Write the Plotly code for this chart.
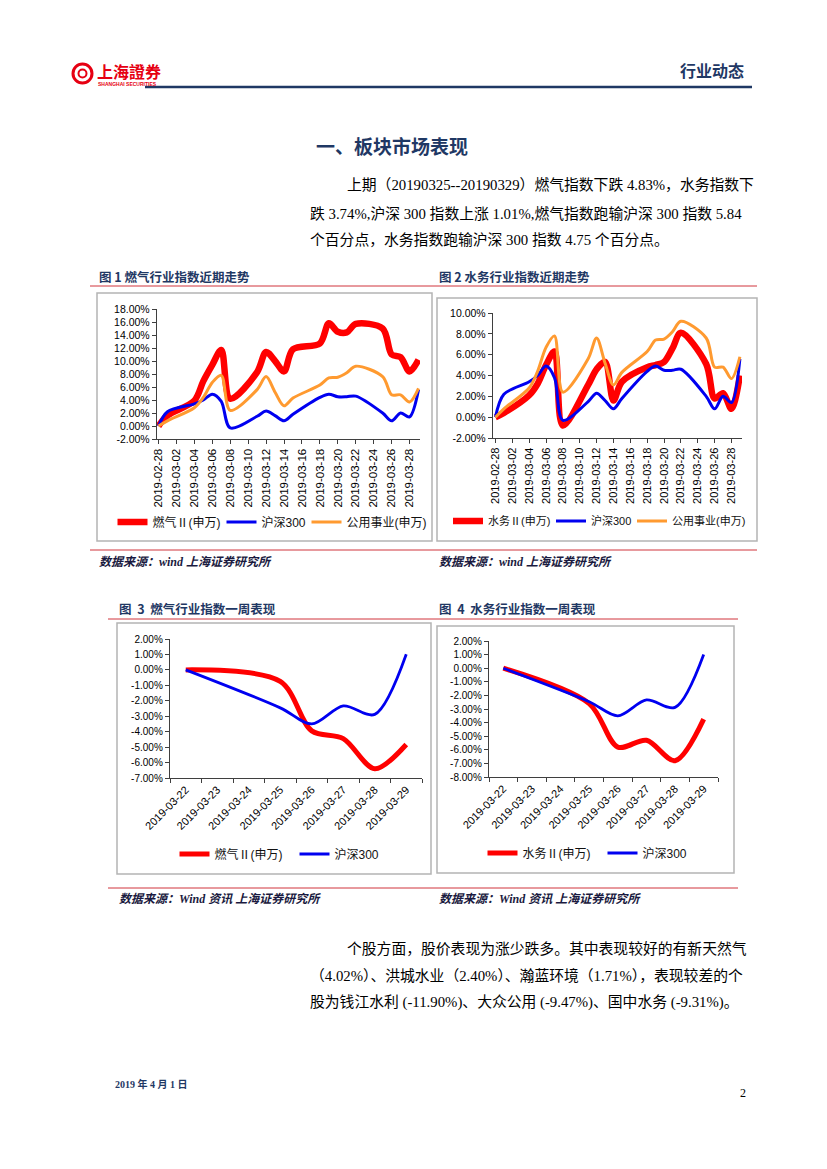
import plotly.graph_objects as go

W, H = 827, 1169


def px(x):
    return x / W


def py(y):
    return 1 - y / H


# ---------------- data ----------------
dates_month = ['2019-02-28', '2019-03-01', '2019-03-04', '2019-03-05', '2019-03-06', '2019-03-07',
               '2019-03-08', '2019-03-11', '2019-03-12', '2019-03-13', '2019-03-14', '2019-03-15',
               '2019-03-18', '2019-03-19', '2019-03-20', '2019-03-21', '2019-03-22', '2019-03-25',
               '2019-03-26', '2019-03-27', '2019-03-28', '2019-03-29']
gas_month = [0, 1.6, 3.9, 6.9, 9.4, 11.7, 4.2, 8.3, 11.4, 10.0, 8.4, 11.8,
             12.7, 15.8, 14.5, 14.4, 15.7, 15.0, 11.0, 10.6, 8.4, 10.2]
water_month = [0, 0.4, 2.1, 3.2, 5.0, 6.3, -0.8, 3.1, 4.6, 5.3, 1.6, 3.4,
               4.8, 5.0, 5.3, 6.6, 8.1, 5.1, 1.8, 2.3, 0.8, 4.0]
hs300_month = [0, 2.2, 3.4, 4.0, 4.9, 3.8, -0.3, 1.5, 2.3, 1.6, 0.8, 1.8,
               4.4, 4.9, 4.5, 4.5, 4.6, 2.0, 0.8, 2.0, 1.4, 5.6]
utility_month = [0, 0.8, 2.8, 4.4, 6.7, 7.8, 2.4, 5.6, 7.6, 5.2, 3.1, 4.3,
                 6.3, 7.4, 7.5, 8.2, 9.2, 7.6, 4.8, 4.8, 3.7, 5.8]

dates_week = ['2019-03-22', '2019-03-25', '2019-03-26', '2019-03-27', '2019-03-28', '2019-03-29']
gas_week = [0, -0.75, -3.95, -4.45, -6.4, -4.83]
water_week = [0, -2.6, -5.8, -5.3, -6.8, -3.74]
hs300_week = [0, -2.46, -3.5, -2.33, -2.88, 1.01]

name_gas = '燃气Ⅱ(申万)'
name_water = '水务Ⅱ(申万)'
name_hs = '沪深300'
name_util = '公用事业(申万)'

yticks1 = [-2, 0, 2, 4, 6, 8, 10, 12, 14, 16, 18]
yticks2 = [-2, 0, 2, 4, 6, 8, 10]
yticks3 = [-7, -6, -5, -4, -3, -2, -1, 0, 1, 2]
yticks4 = [-8, -7, -6, -5, -4, -3, -2, -1, 0, 1, 2]

# ---------------- style ----------------
RED = '#ff0000'
BLUE = '#0000f0'
ORANGE = '#ff9a30'
AX = '#3f3f3f'
NAVY = '#1f3864'
LAT = 'Liberation Sans, Arial, Noto Sans CJK SC'
CJK = 'Noto Sans CJK SC'
SERIF = 'Liberation Serif, Noto Sans CJK SC'
DAY = 86400000

fig = go.Figure()


def line(x, y, name, color, width, xa, ya, lg, lw):
    fig.add_trace(go.Scatter(x=x, y=y, name=name, mode='lines',
                             line=dict(color=color, width=width, shape='spline', smoothing=0.9),
                             xaxis=xa, yaxis=ya, legend=lg, legendwidth=lw, hoverinfo='skip'))


line(dates_month, gas_month, name_gas, RED, 6.5, 'x', 'y', 'legend', 64)
line(dates_month, hs300_month, name_hs, BLUE, 3, 'x', 'y', 'legend', 40)
line(dates_month, utility_month, name_util, ORANGE, 3, 'x', 'y', 'legend', 76)

line(dates_month, water_month, name_water, RED, 6.5, 'x2', 'y2', 'legend2', 58)
line(dates_month, hs300_month, name_hs, BLUE, 3, 'x2', 'y2', 'legend2', 36)
line(dates_month, utility_month, name_util, ORANGE, 3, 'x2', 'y2', 'legend2', 69)

line(dates_week, gas_week, name_gas, RED, 5, 'x3', 'y3', 'legend3', 75)
line(dates_week, hs300_week, name_hs, BLUE, 2.8, 'x3', 'y3', 'legend3', 46)

line(dates_week, water_week, name_water, RED, 5, 'x4', 'y4', 'legend4', 75)
line(dates_week, hs300_week, name_hs, BLUE, 2.8, 'x4', 'y4', 'legend4', 46)


def xaxis_month(x0, x1, anchor, rng, fs):
    return dict(domain=[px(x0), px(x1)], anchor=anchor, type='date', range=rng,
                dtick=2 * DAY, tick0='2019-02-28', tickformat='%Y-%m-%d', tickangle=-90,
                showgrid=False, zeroline=False, showline=True, linecolor=AX, linewidth=1.4,
                ticks='outside', ticklen=4, tickcolor=AX, automargin=False,
                tickfont=dict(family=LAT, size=fs, color='#000'))


def xaxis_week(x0, x1, anchor, fs):
    return dict(domain=[px(x0), px(x1)], anchor=anchor, type='date',
                range=['2019-03-21 12:00', '2019-03-29 12:00'],
                dtick=DAY, tick0='2019-03-22', tickformat='%Y-%m-%d', tickangle=-45,
                showgrid=False, zeroline=False, showline=True, linecolor=AX, linewidth=1.4,
                ticks='', automargin=False,
                minor=dict(ticks='outside', dtick=DAY, tick0='2019-03-21 12:00', ticklen=4,
                           tickcolor=AX, showgrid=False),
                tickfont=dict(family=LAT, size=fs, color='#000'))


def yaxis(y_top, y_bot, anchor, ticks, fs):
    return dict(domain=[py(y_bot), py(y_top)], anchor=anchor, range=[ticks[0], ticks[-1]],
                tickvals=ticks, ticktext=[f'{v:.2f}%' for v in ticks],
                showgrid=False, zeroline=False, showline=True, linecolor=AX, linewidth=1.4,
                ticks='outside', ticklen=4, tickcolor=AX, automargin=False,
                tickfont=dict(family=LAT, size=fs, color='#000'))


def legend(cx, cy, fs):
    return dict(orientation='h', x=px(cx), y=py(cy), xanchor='center', yanchor='middle',
                bgcolor='rgba(0,0,0,0)', itemwidth=30, tracegroupgap=0,
                font=dict(family=LAT, size=fs, color='#111'), itemclick=False)


shapes = []


def hline(x0, x1, y, color, width):
    shapes.append(dict(type='line', xref='paper', yref='paper', x0=px(x0), x1=px(x1),
                       y0=py(y), y1=py(y), line=dict(color=color, width=width)))


def box(x0, y0, x1, y1):
    shapes.append(dict(type='rect', xref='paper', yref='paper', x0=px(x0), x1=px(x1),
                       y0=py(y1), y1=py(y0), line=dict(color='#b4b4b4', width=1.5)))


# header
hline(145, 752, 87, NAVY, 2.5)
shapes.append(dict(type='circle', xref='paper', yref='paper', x0=px(73), x1=px(92),
                   y0=py(83), y1=py(64), line=dict(color='#e60012', width=3)))
shapes.append(dict(type='circle', xref='paper', yref='paper', x0=px(78.5), x1=px(86.5),
                   y0=py(77.5), y1=py(69.5), line=dict(color='#e60012', width=2)))
# chart frames and red rules
hline(90, 757, 286, '#d0343c', 1)
hline(90, 757, 550, '#d0343c', 1)
hline(108, 738, 619, '#d0343c', 1)
hline(108, 738, 888, '#d0343c', 1)
box(97, 293, 432, 541)
box(437, 298, 757, 541)
box(117, 623, 431, 874)
box(437, 626, 734, 873)

ann = []


def text(x, y, s, size, family, color='#000', anchor='left', bold=False, italic=False):
    if bold:
        s = f'<b>{s}</b>'
    if italic:
        s = f'<i>{s}</i>'
    ann.append(dict(x=px(x), y=py(y), xref='paper', yref='paper', text=s, showarrow=False,
                    xanchor=anchor, yanchor='middle', font=dict(family=family, size=size, color=color)))


# header texts
text(95, 71, '上海證券', 16, CJK, '#e60012', bold=True)
text(96, 84, 'SHANGHAI SECURITIES', 5, LAT, '#e60012', bold=True)
text(746, 70, '行业动态', 16, CJK, NAVY, 'right', bold=True)

# section title and paragraph
BODY = 14.8
text(392, 145, '一、板块市场表现', 19, CJK, NAVY, 'center', bold=True)
text(345, 185, '上期（20190325--20190329）燃气指数下跌 4.83%，水务指数下', BODY, SERIF)
text(308, 213, '跌 3.74%,沪深 300 指数上涨 1.01%,燃气指数跑输沪深 300 指数 5.84', BODY, SERIF)
text(308, 240, '个百分点，水务指数跑输沪深 300 指数 4.75 个百分点。', BODY, SERIF)

# captions
text(97, 277, '图 1 燃气行业指数近期走势', 12.5, CJK, NAVY, bold=True)
text(437, 277, '图 2 水务行业指数近期走势', 12.5, CJK, NAVY, bold=True)
text(97, 562, '数据来源：wind 上海证券研究所', 12, SERIF, '#1a1a40', bold=True, italic=True)
text(437, 562, '数据来源：wind 上海证券研究所', 12, SERIF, '#1a1a40', bold=True, italic=True)
text(117, 608, '图  3  燃气行业指数一周表现', 12.5, CJK, NAVY, bold=True)
text(437, 608, '图  4  水务行业指数一周表现', 12.5, CJK, NAVY, bold=True)
text(117, 899, '数据来源：Wind 资讯 上海证券研究所', 12, SERIF, '#1a1a40', bold=True, italic=True)
text(437, 899, '数据来源：Wind 资讯 上海证券研究所', 12, SERIF, '#1a1a40', bold=True, italic=True)

# second paragraph
text(345, 948, '个股方面，股价表现为涨少跌多。其中表现较好的有新天然气', BODY, SERIF)
text(308, 975, '（4.02%）、洪城水业（2.40%）、瀚蓝环境（1.71%），表现较差的个', BODY, SERIF)
text(308, 1002, '股为钱江水利 (-11.90%)、大众公用 (-9.47%)、国中水务 (-9.31%)。', BODY, SERIF)

# footer
text(113, 1084, '2019 年 4 月 1 日', 10, SERIF, NAVY, bold=True)
text(748, 1093, '2', 12, SERIF, '#000', 'right')

fig.update_layout(
    width=W, height=H, margin=dict(l=0, r=0, t=0, b=0), autosize=False,
    paper_bgcolor='white', plot_bgcolor='rgba(0,0,0,0)', showlegend=True,
    font=dict(family=LAT, size=11, color='#000'),
    xaxis=xaxis_month(157, 420, 'y', ['2019-02-27 20:00', '2019-03-29 04:00'], 11.5),
    yaxis=yaxis(309, 439, 'x', yticks1, 10.5),
    xaxis2=xaxis_month(493, 742, 'y2', ['2019-02-27 17:00', '2019-03-29 06:00'], 11),
    yaxis2=yaxis(313, 438, 'x2', yticks2, 10.5),
    xaxis3=xaxis_week(170, 422, 'y3', 11),
    yaxis3=yaxis(639, 778, 'x3', yticks3, 10),
    xaxis4=xaxis_week(489, 718, 'y4', 11),
    yaxis4=yaxis(641, 777, 'x4', yticks4, 10),
    legend=legend(270, 522, 12),
    legend2=legend(597, 521, 11),
    legend3=legend(280, 854, 12),
    legend4=legend(588, 853, 12),
    shapes=shapes,
    annotations=ann,
)

fig.write_html('out.html', config={'displayModeBar': False},
               post_script="document.body.style.margin='0';document.body.style.overflow='hidden';")
